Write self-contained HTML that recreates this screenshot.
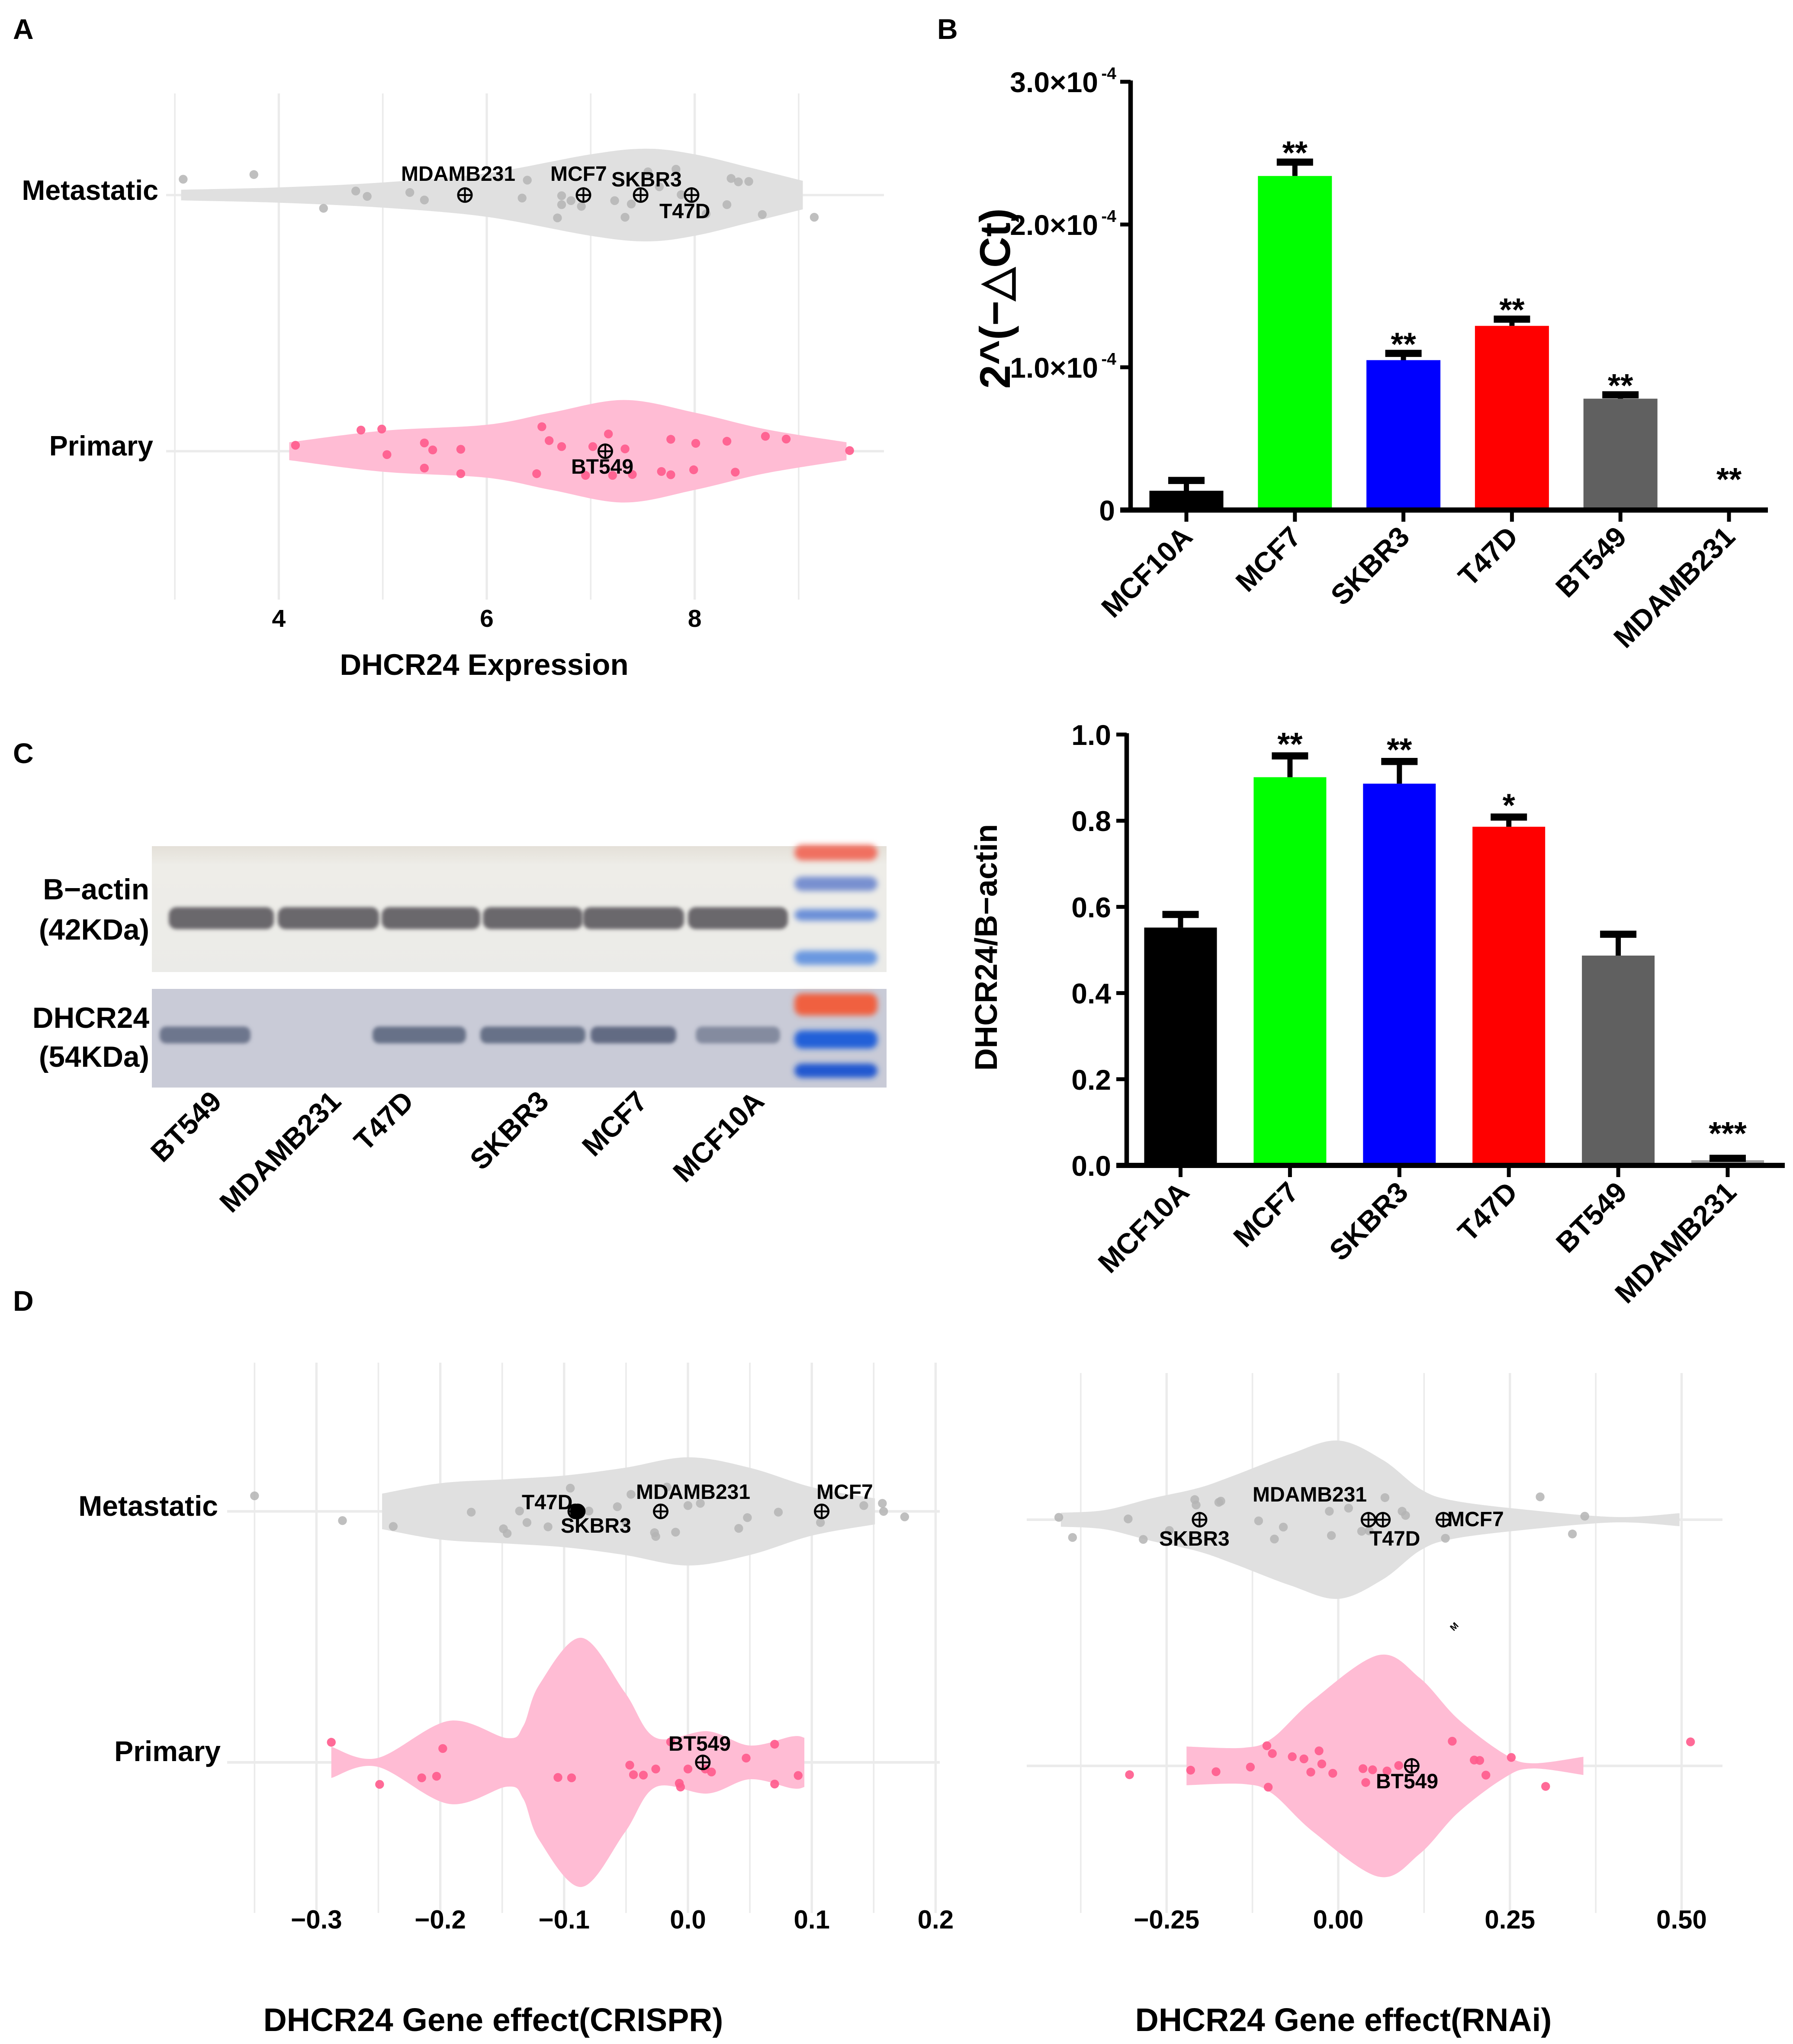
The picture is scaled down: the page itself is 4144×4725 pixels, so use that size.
<!DOCTYPE html>
<html><head><meta charset="utf-8"><style>
html,body{margin:0;padding:0;background:#fff;}
svg{display:block;font-family:"Liberation Sans",Arial,sans-serif;font-weight:bold;}
</style></head><body>
<svg id="fig" width="4144" height="4725" viewBox="0 0 1381.33 1575" xmlns="http://www.w3.org/2000/svg">
<defs>
<filter id="blur1" x="-20%" y="-50%" width="140%" height="200%"><feGaussianBlur stdDeviation="2.2"/></filter>
<filter id="blur2" x="-20%" y="-50%" width="140%" height="200%"><feGaussianBlur stdDeviation="1.4"/></filter>
<linearGradient id="topblot" x1="0" y1="0" x2="0" y2="1"><stop offset="0" stop-color="#e4e0d8"/><stop offset="0.15" stop-color="#eeede8"/><stop offset="1" stop-color="#ebebe8"/></linearGradient>
</defs>
<g id="root"></g>
</svg>
<script>
// ===== Panel A data =====
const aMetVals=[3.08,3.76,4.43,4.74,4.85,5.26,5.40,6.34,6.39,6.68,6.72,6.72,6.81,6.91,7.23,7.33,7.39,7.55,7.66,7.82,7.87,8.11,8.31,8.35,8.42,8.52,8.65,9.15];
const aMetJit=[-12.2,-15.8,10.2,-3.1,1,-2,3.8,2.3,-11.5,17.6,7.4,0.5,4.3,8.7,4.3,17.1,6.9,-17.9,-6.4,-19.9,-0.3,14.5,7.4,-12.8,-10.2,-10.5,15,17.1];
const aPriVals=[4.16,4.79,4.99,5.04,5.40,5.40,5.48,5.75,5.75,6.48,6.53,6.60,6.72,6.95,7.02,7.17,7.21,7.33,7.40,7.68,7.77,7.77,7.99,8.01,8.31,8.39,8.68,8.88,9.49];
const aPriJit=[-4.6,-16.3,-17.1,2.6,-6.4,13,-1,-1.5,17.3,17.3,-18.9,-8.2,-3.6,18.6,-3.6,-13.3,18.6,-1.8,17.9,15.6,-9.2,18.1,14.3,-6.1,-7.7,16.1,-11.5,-9.4,-0.5];
const aMetDensX=[3.06,4.0,5.0,6.0,7.0,7.54,8.0,8.53,9.04];
const aMetDensW=[4.1,5.9,9.7,16.8,31.4,35.7,31.4,21.2,11];
const aPriDensX=[4.10,5.0,6.0,6.62,7.32,8.0,8.68,9.46];
const aPriDensW=[6.9,15.8,20.4,29.8,39.5,29.8,17,6.9];
const aLabels=["MDAMB231","MCF7","SKBR3","T47D"];
const aLabelVals=[5.79,6.93,7.48,7.97];
const aPriLabels=["BT549"];
const aPriLabelVals=[7.14];
const aTicks=[4,6,8];

// ===== Panel B data =====
const bCats=["MCF10A","MCF7","SKBR3","T47D","BT549","MDAMB231"];
const bVals=[0.135,2.34,1.05,1.29,0.78,0];
const bErr=[0.23,2.46,1.12,1.36,0.83,0];
const bStars=["","**","**","**","**","**"];
const bTicks=[0,1,2,3];
const bTickLabels=["0","1.0×10","2.0×10","3.0×10"];

// ===== Panel C bar data =====
const cCats=["MCF10A","MCF7","SKBR3","T47D","BT549","MDAMB231"];
const cVals=[0.552,0.901,0.886,0.786,0.487,0.012];
const cErr=[0.59,0.958,0.945,0.816,0.544,0.024];
const cStars=["","**","**","*","","***"];
const cTicks=[0,0.2,0.4,0.6,0.8,1.0];
const cTickLabels=["0.0","0.2","0.4","0.6","0.8","1.0"];
const barColors=["#000000","#00ff00","#0000ff","#ff0000","#606060","#a0a0a0"];

// ===== Blot data (relative band intensity) =====
const blotLanes=["BT549","MDAMB231","T47D","SKBR3","MCF7","MCF10A"];
const actinInt=[1,1,1,1,1,1];
const dhcrInt=[0.8,0,0.85,0.85,0.9,0.6];

// ===== Panel D data =====
const dlMetVals=[-0.350,-0.279,-0.238,-0.175,-0.149,-0.146,-0.136,-0.130,-0.113,-0.095,-0.080,-0.057,-0.050,-0.046,-0.027,-0.026,-0.017,-0.010,0.000,0.010,0.041,0.048,0.073,0.107,0.142,0.157,0.158,0.175];
const dlMetJit=[-12,7.1,11.6,0.6,13.4,17,-0.3,8.6,11.9,-17.9,-0.3,-3.6,8.6,-13.1,16.4,19.3,-18.7,16,-4.5,-6.2,13.1,4.8,0.6,8.6,-4.5,-6.2,0,4.2];
const dlPriVals=[-0.288,-0.249,-0.215,-0.203,-0.198,-0.105,-0.094,-0.047,-0.044,-0.036,-0.026,-0.014,-0.007,-0.006,0.000,0.014,0.019,0.047,0.070,0.070,0.089];
const dlPriJit=[-15.5,16.95,11.9,10.7,-10.7,11.6,11.9,2.1,9.5,9.8,5.1,-15.8,16.1,19,5.1,5.1,7.4,-3.3,-14,16.7,10.1];
const dlMetDensX=[-0.247,-0.200,-0.148,-0.099,-0.051,0,0.050,0.100,0.151];
const dlMetDensW=[13.7,21.7,24.7,27.7,33.6,41.7,33.6,18.7,10];
const dlPriDensX=[-0.288,-0.251,-0.193,-0.146,-0.133,-0.120,-0.086,-0.051,-0.026,0.016,0.050,0.084,0.094];
const dlPriDensW=[12,3.3,32,18.7,28,60,96,54,19,24,13,20,19];
const dlMetLabelVals=[-0.089,-0.091,-0.022,0.108];
const dlTicks=[-0.3,-0.2,-0.1,0.0,0.1,0.2];
const dlTickLabels=["−0.3","−0.2","−0.1","0.0","0.1","0.2"];

const drMetVals=[-0.407,-0.387,-0.306,-0.284,-0.246,-0.209,-0.207,-0.174,-0.171,-0.116,-0.093,-0.080,-0.013,-0.010,0.015,0.034,0.045,0.068,0.093,0.098,0.156,0.294,0.341,0.359];
const drMetJit=[-1.8,13.7,-0.6,15.2,8.3,-15.5,-11.3,-13.4,-14.3,0.9,14.9,5.7,-6.5,12.2,-8.9,8.9,8.6,-17,-6.5,-3.3,14.3,-17.6,11,-2.7];
const drPriVals=[-0.304,-0.215,-0.178,-0.128,-0.104,-0.102,-0.096,-0.067,-0.050,-0.040,-0.028,-0.024,-0.008,0.036,0.040,0.050,0.071,0.088,0.166,0.198,0.206,0.215,0.252,0.302,0.513];
const drPriJit=[6.8,3.3,4.5,0.9,-15.5,16.4,-9.5,-7.1,-5.4,4.8,-11.6,-1.5,5.7,2.1,12.8,3,3.9,-0.3,-19,-4.5,-4.2,7.1,-6.5,15.8,-18.5];
const drMetDensX=[-0.404,-0.340,-0.272,-0.204,-0.151,-0.070,0,0.065,0.119,0.166,0.268,0.403,0.497];
const drMetDensW=[5.4,7.4,16.4,24.4,34.2,50.6,61,46,23.8,14.9,8,2.1,5];
const drPriDensX=[-0.221,-0.137,-0.096,-0.036,0.059,0.119,0.174,0.241,0.282,0.357];
const drPriDensW=[14.9,14,21.4,51,85.4,67.6,36.3,9.5,2,7];
const drMetLabelVals=[-0.202,0.044,0.065,0.153];
const drTicks=[-0.25,0,0.25,0.5];
const drTickLabels=["−0.25","0.00","0.25","0.50"];

// ===== helpers =====
const NS="http://www.w3.org/2000/svg";
const root=document.getElementById('root');
function mk(tag,attrs,parent){const e=document.createElementNS(NS,tag);for(const k in attrs)e.setAttribute(k,attrs[k]);(parent||root).appendChild(e);return e;}
function txt(s,x,y,size,opts,parent){const o=opts||{};const t=mk('text',{x:x,y:y,'font-size':size,'text-anchor':o.anchor||'start',fill:o.fill||'#000'},parent);if(o.rot!==undefined)t.setAttribute('transform','rotate('+o.rot+' '+x+' '+y+')');if(o.italic)t.setAttribute('font-style','italic');t.textContent=s;return t;}
function crPath(pts){let d='M'+pts[0][0]+','+pts[0][1];for(let i=0;i<pts.length-1;i++){const p0=pts[i-1]||pts[i],p1=pts[i],p2=pts[i+1],p3=pts[i+2]||p2;const c1=[p1[0]+(p2[0]-p0[0])/6,p1[1]+(p2[1]-p0[1])/6];const c2=[p2[0]-(p3[0]-p1[0])/6,p2[1]-(p3[1]-p1[1])/6];d+=' C'+c1[0].toFixed(2)+','+c1[1].toFixed(2)+' '+c2[0].toFixed(2)+','+c2[1].toFixed(2)+' '+p2[0].toFixed(2)+','+p2[1].toFixed(2);}return d;}
function violinPath(xs,ws,sx,cy){const top=xs.map((v,i)=>[sx(v),cy-ws[i]]);const bot=xs.map((v,i)=>[sx(v),cy+ws[i]]).reverse();let d=crPath(top);const b=crPath(bot);d+=' L'+b.slice(1);return d+' Z';}
function oplus(x,y,g){mk('circle',{cx:x,cy:y,r:5.2,fill:'none',stroke:'#000','stroke-width':1.6},g);mk('line',{x1:x-5.2,y1:y,x2:x+5.2,y2:y,stroke:'#000','stroke-width':1.4},g);mk('line',{x1:x,y1:y-5.2,x2:x,y2:y+5.2,stroke:'#000','stroke-width':1.4},g);}

// ===== Panel letters =====
[['A',10,30],['B',722,30],['C',10,588],['D',10,1010]].forEach(l=>{const t=txt(l[0],l[1],l[2],22);});

// ===== Panel A =====
(function(){
const g=mk('g',{});


const sx=v=>214.8+(v-4)*80.1;
const metY=150.3, priY=347.7;
for(let v=3;v<=9;v++){const l=mk('line',{x1:sx(v),y1:72,x2:sx(v),y2:462,stroke:'#ebebeb','stroke-width':v%2===0?1.8:1.2},g);}
[metY,priY].forEach(y=>{const l=mk('line',{x1:128,y1:y,x2:681,y2:y,stroke:'#ebebeb','stroke-width':1.8},g);});
const vm=mk('path',{d:violinPath(aMetDensX,aMetDensW,sx,metY),fill:'#e0e0e0'},g);

const vp=mk('path',{d:violinPath(aPriDensX,aPriDensW,sx,priY),fill:'#ffbcd4'},g);

aMetVals.forEach((v,i)=>{const c=mk('circle',{cx:sx(v),cy:metY+aMetJit[i],r:3.4,fill:'#b4b4b4','fill-opacity':0.85},g);});
aPriVals.forEach((v,i)=>{const c=mk('circle',{cx:sx(v),cy:priY+aPriJit[i],r:3.4,fill:'#ff5a8c','fill-opacity':0.9},g);});
aLabelVals.forEach(v=>oplus(sx(v),metY,g));
aPriLabelVals.forEach(v=>oplus(sx(v),priY,g));
const lp=[[309,139.4],[424,139.4],[471,143.7],[508,168.2]];
aLabels.forEach((s,i)=>{const t=txt(s,lp[i][0],lp[i][1],16,{},g);});
let t=txt('BT549',440,365,16,{},g);
t=txt('Metastatic',122,154,21.5,{anchor:'end'},g);
t=txt('Primary',118,351,21.5,{anchor:'end'},g);
aTicks.forEach(v=>{const tt=txt(String(v),sx(v),483,19,{anchor:'middle'},g);});
t=txt('DHCR24 Expression',373,520,23,{anchor:'middle'},g);
})();

// ===== Panel B =====
(function(){
const g=mk('g',{});


const ax=871, y0=393, k=110;
const sy=v=>y0-v*k;
const cx=i=>914+83.6*i;
const bw=57;
bVals.forEach((v,i)=>{
 if(v>0){const r=mk('rect',{x:cx(i)-bw/2,y:sy(v),width:bw,height:y0-sy(v),fill:barColors[i]},g);
 const e=mk('line',{x1:cx(i),y1:sy(v),x2:cx(i),y2:sy(bErr[i]),stroke:'#000','stroke-width':4},g);
 const c=mk('line',{x1:cx(i)-14,y1:sy(bErr[i])+2.5,x2:cx(i)+14,y2:sy(bErr[i])+2.5,stroke:'#000','stroke-width':5.5},g);}
 if(bStars[i]){const yy=v>0?sy(bErr[i])-2:y0-21;const s=txt(bStars[i],cx(i),yy+6,25,{anchor:'middle'},g);}
});
let l=mk('line',{x1:ax,y1:sy(3)-1,x2:ax,y2:y0+2,stroke:'#000','stroke-width':3.5},g);
l=mk('line',{x1:ax-8,y1:y0,x2:1362,y2:y0,stroke:'#000','stroke-width':4},g);
bTicks.forEach((v,i)=>{mk('line',{x1:ax-8,y1:sy(v),x2:ax,y2:sy(v),stroke:'#000','stroke-width':3},g);
 const t=txt(bTickLabels[i],ax-12-(i>0?13:0),sy(v)+8,22,{anchor:'end'},g);
 if(i>0){const s=txt('-4',ax-11,sy(v)-2,13,{anchor:'end'},g);}});
bCats.forEach((c,i)=>{mk('line',{x1:cx(i),y1:y0,x2:cx(i),y2:y0+9,stroke:'#000','stroke-width':3},g);
 const t=txt(c,cx(i)+6,y0+22,22,{anchor:'end',rot:-45},g);});
const t=txt('2^(−△Ct)',778,230,33,{anchor:'middle',rot:-90},g);
})();

// ===== Panel C blot =====
(function(){
const g=mk('g',{});


let r=mk('rect',{x:117,y:652,width:566,height:97,fill:'url(#topblot)'},g);
r=mk('rect',{x:117,y:762,width:566,height:76,fill:'#c9cbd7'},g);
const lanes=[[130,211],[214,292],[294,370],[372,449],[449,527],[530,607]];
actinInt.forEach((v,i)=>{const b=mk('rect',{x:lanes[i][0],y:699,width:lanes[i][1]-lanes[i][0],height:17,rx:6,fill:'#6a686c','fill-opacity':v,filter:'url(#blur2)'},g);});
const dl=[[123,193],[214,292],[287,359],[370,451],[455,521],[536,601]];
dhcrInt.forEach((v,i)=>{if(v>0){const b=mk('rect',{x:dl[i][0],y:791,width:dl[i][1]-dl[i][0],height:13,rx:5,fill:'#56607a','fill-opacity':v,filter:'url(#blur2)'},g);}});
[[657,'#f07060',12],[681,'#7890d0',11],[705,'#6c90d8',9],[738,'#6a98e0',11],[774,'#f06040',17],[801,'#2060d8',14],[825,'#2058d0',11]].forEach(l=>{const e=mk('rect',{x:612,y:l[0]-l[2]/2,width:64,height:l[2],rx:6,fill:l[1],filter:'url(#blur1)'},g);});
[['B−actin',693],['(42KDa)',724],['DHCR24',792],['(54KDa)',822]].forEach(l=>{const t=txt(l[0],115,l[1],22.5,{anchor:'end'},g);});
const ends=[[172,850],[264,850],[320,850],[424,850],[500,850],[590,850]];
blotLanes.forEach((s,i)=>{const t=txt(s,ends[i][0],ends[i][1],22,{anchor:'end',rot:-45},g);});
})();

// ===== Panel C bar chart =====
(function(){
const g=mk('g',{});


const ax=868, y0=898, k=332;
const sy=v=>y0-v*k;
const cx=i=>909.5+84.3*i;
const bw=56;
cVals.forEach((v,i)=>{
 const r=mk('rect',{x:cx(i)-bw/2,y:sy(v),width:bw,height:y0-sy(v),fill:barColors[i]},g);
 const e=mk('line',{x1:cx(i),y1:sy(v),x2:cx(i),y2:sy(cErr[i]),stroke:'#000','stroke-width':4},g);
 const c=mk('line',{x1:cx(i)-14,y1:sy(cErr[i])+2.5,x2:cx(i)+14,y2:sy(cErr[i])+2.5,stroke:'#000','stroke-width':5.5},g);
 if(cStars[i]){const s=txt(cStars[i],cx(i),sy(cErr[i])-(i===5?14:4)+6,25,{anchor:'middle'},g);}
});
let l=mk('line',{x1:ax,y1:sy(1)-1,x2:ax,y2:y0+2,stroke:'#000','stroke-width':3.5},g);
l=mk('line',{x1:ax-8,y1:y0,x2:1375,y2:y0,stroke:'#000','stroke-width':4},g);
cTicks.forEach((v,i)=>{mk('line',{x1:ax-8,y1:sy(v),x2:ax,y2:sy(v),stroke:'#000','stroke-width':3},g);
 const t=txt(cTickLabels[i],ax-12,sy(v)+8,22,{anchor:'end'},g);});
cCats.forEach((c,i)=>{mk('line',{x1:cx(i),y1:y0,x2:cx(i),y2:y0+9,stroke:'#000','stroke-width':3},g);
 const t=txt(c,cx(i)+8,y0+22,22,{anchor:'end',rot:-45},g);});
const t=txt('DHCR24/B−actin',768,730,24,{anchor:'middle',rot:-90},g);
})();

// ===== Panel D =====
function dPanel(cfg){
const g=mk('g',{});


const sx=v=>cfg.x0+v*cfg.k;
for(let i=0;i<cfg.grid.length;i++){const v=cfg.grid[i];const l=mk('line',{x1:sx(v),y1:cfg.gtop,x2:sx(v),y2:1474,stroke:'#ebebeb','stroke-width':cfg.major.some(m=>Math.abs(m-v)<1e-6)?1.8:1.2},g);}
[cfg.metY,cfg.priY].forEach(y=>{const l=mk('line',{x1:cfg.hx0,y1:y,x2:cfg.hx1,y2:y,stroke:'#ebebeb','stroke-width':2},g);});
const vm=mk('path',{d:violinPath(cfg.mdx,cfg.mdw,sx,cfg.metY),fill:'#e0e0e0'},g);
const vp=mk('path',{d:violinPath(cfg.pdx,cfg.pdw,sx,cfg.priY),fill:'#ffbcd4'},g);
cfg.mv.forEach((v,i)=>{const c=mk('circle',{cx:sx(v),cy:cfg.metY+cfg.mj[i],r:3.4,fill:'#b4b4b4','fill-opacity':0.85},g);});
cfg.pv.forEach((v,i)=>{const c=mk('circle',{cx:sx(v),cy:cfg.priY+cfg.pj[i],r:3.4,fill:'#ff5a8c','fill-opacity':0.9},g);});
cfg.lv.forEach(v=>oplus(sx(v),cfg.metY,g));
oplus(sx(cfg.bt),cfg.priY,g);
cfg.labels.forEach(l=>{const t=txt(l[0],l[1],l[2],16,{},g);});
cfg.ticks.forEach((v,i)=>{const t=txt(cfg.tickLabels[i],sx(v),1486,20,{anchor:'middle'},g);});
const t=txt(cfg.title,cfg.titleX,1565,25,{anchor:'middle'},g);
return g;
}
const gl=dPanel({name:'panel-d-crispr',x0:530,k:954,gtop:1050,hx0:175,hx1:724,metY:1164.6,priY:1358,
 grid:[-0.35,-0.3,-0.25,-0.2,-0.15,-0.1,-0.05,0,0.05,0.1,0.15,0.2],major:dlTicks,
 mdx:dlMetDensX,mdw:dlMetDensW,pdx:dlPriDensX,pdw:dlPriDensW,mv:dlMetVals,mj:dlMetJit,pv:dlPriVals,pj:dlPriJit,
 lv:dlMetLabelVals,bt:0.012,
 labels:[['T47D',402,1163],['SKBR3',432,1181],['MDAMB231',490,1155],['MCF7',629,1155],['BT549',515,1349]],
 ticks:dlTicks,tickLabels:dlTickLabels,title:'DHCR24 Gene effect(CRISPR)',titleX:380});
const big=mk('circle',{cx:530+(-0.089)*954,cy:1164.6,r:5.5,fill:'#000'},gl);

const gr=dPanel({name:'panel-d-rnai',x0:1031,k:529,gtop:1058,hx0:791,hx1:1327,metY:1171,priY:1360.7,
 grid:[-0.375,-0.25,-0.125,0,0.125,0.25,0.375,0.5],major:drTicks,
 mdx:drMetDensX,mdw:drMetDensW,pdx:drPriDensX,pdw:drPriDensW,mv:drMetVals,mj:drMetJit,pv:drPriVals,pj:drPriJit,
 lv:drMetLabelVals,bt:0.107,
 labels:[['MDAMB231',965,1157],['SKBR3',893,1191],['T47D',1055,1191],['MCF7',1115,1176],['BT549',1060,1378]],
 ticks:drTicks,tickLabels:drTickLabels,title:'DHCR24 Gene effect(RNAi)',titleX:1035});
let m=txt('M',1122,1255,7,{anchor:'middle',rot:-45},gr);
let r1=txt('Metastatic',168,1168,22,{anchor:'end'});
let r2=txt('Primary',170,1357,22,{anchor:'end'});
</script>
</body></html>
